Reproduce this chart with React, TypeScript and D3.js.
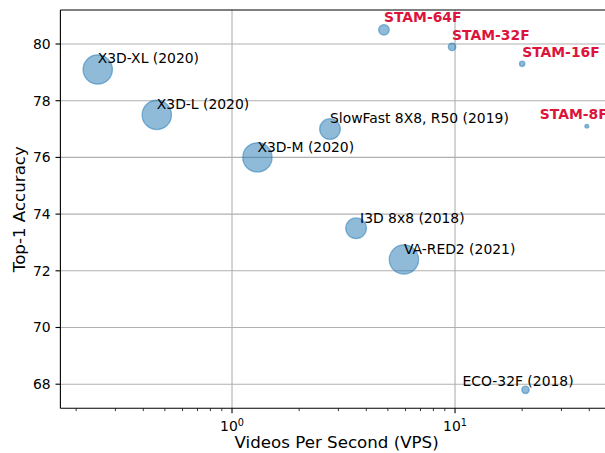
import React from 'react';
import * as d3 from 'd3';

// baseline models
const models = ['X3D-XL (2020)', 'X3D-L (2020)', 'X3D-M (2020)', 'SlowFast 8X8, R50 (2019)', 'I3D 8x8 (2018)', 'VA-RED2 (2021)', 'ECO-32F (2018)'];
const modelVps = [0.25, 0.46, 1.3, 2.75, 3.6, 5.9, 20.7];
const modelAcc = [79.1, 77.5, 76.0, 77.0, 73.5, 72.4, 67.8];
const modelSize = [350, 350, 350, 175, 175, 350, 22];

// ours
const stam = ['STAM-64F', 'STAM-32F', 'STAM-16F', 'STAM-8F'];
const stamVps = [4.8, 9.7, 20, 39];
const stamAcc = [80.5, 79.9, 79.3, 77.1];
const stamSize = [46, 23, 11.5, 5.75];

const yTicks = [68, 70, 72, 74, 76, 78, 80];
const xMajor = [1, 10];

// label nudges (px), models then stam
const labelDx = [0, 0, 0, 0, 4, 0, -63, 0, 0, 0, -47];
const labelDy = [-7, -6, -5.5, -6, -5, -5, -3.5, -7.5, -6.5, -7, -7];

const W = 605;
const H = 453;
const left = 60.4;
const top = 10;
const bottom = 408.3;
const font = 'DejaVu Sans, sans-serif';

const App = () => {
  const x = d3.scaleLog().domain([0.17, 50]).range([left, 610.9]);
  const y = d3.scaleLinear().domain([67.15, 81.2]).range([bottom, top]);
  const r = d3.scaleSqrt().domain([0, 350]).range([0, Math.sqrt(350 / Math.PI) * (100 / 72)]);

  const minor: number[] = [];
  [0.1, 1, 10].forEach((d) => {
    for (let k = 2; k <= 9; k++) {
      const v = d * k;
      if (v >= 0.17 && v <= 50) minor.push(v);
    }
  });

  const points = [
    ...models.map((name, i) => ({ name, vps: modelVps[i], acc: modelAcc[i], size: modelSize[i], ours: false })),
    ...stam.map((name, i) => ({ name, vps: stamVps[i], acc: stamAcc[i], size: stamSize[i], ours: true })),
  ];

  return (
    <svg width={W} height={H} style={{ position: 'absolute', left: 0, top: 0, background: '#fff' }} fontFamily={font}>
      <defs>
        <clipPath id='plot'>
          <rect x={left} y={top} width={W - left} height={bottom - top} />
        </clipPath>
      </defs>
      {/* grid */}
      {yTicks.map((t) => (
        <line key={'gy' + t} x1={left} x2={W} y1={y(t)} y2={y(t)} stroke='#b0b0b0' strokeWidth={1.1} />
      ))}
      {xMajor.map((t) => (
        <line key={'gx' + t} x1={x(t)} x2={x(t)} y1={top} y2={bottom} stroke='#b0b0b0' strokeWidth={1.1} />
      ))}
      {/* bubbles */}
      <g clipPath='url(#plot)'>
        {points.map((p) => (
          <circle
            key={p.name}
            cx={x(p.vps)}
            cy={y(p.acc)}
            r={r(p.size)}
            fill='#1f77b4'
            fillOpacity={0.5}
            stroke='#1f77b4'
            strokeOpacity={0.5}
            strokeWidth={1.3}
          />
        ))}
      </g>
      {points.map((p, i) => (
        <text
          key={'t' + p.name}
          x={x(p.vps) + labelDx[i]}
          y={y(p.acc) + labelDy[i]}
          fontSize={13.9}
          fontWeight={p.ours ? 'bold' : 'normal'}
          fill={p.ours ? '#dc143c' : '#000'}
        >
          {p.name}
        </text>
      ))}
      {/* spines */}
      <line x1={left} x2={left} y1={top} y2={bottom} stroke='#000' strokeWidth={1.1} />
      <line x1={left} x2={W} y1={bottom} y2={bottom} stroke='#000' strokeWidth={1.1} />
      <line x1={left} x2={W} y1={top} y2={top} stroke='#000' strokeWidth={1.1} />
      {/* y ticks */}
      {yTicks.map((t) => (
        <g key={'yt' + t}>
          <line x1={left - 4.9} x2={left} y1={y(t)} y2={y(t)} stroke='#000' strokeWidth={1.1} />
          <text x={left - 9.8} y={y(t)} dy='0.35em' textAnchor='end' fontSize={13.9}>
            {t}
          </text>
        </g>
      ))}
      {/* x ticks */}
      {minor.map((t) => (
        <line key={'mx' + t} x1={x(t)} x2={x(t)} y1={bottom} y2={bottom + 2.8} stroke='#000' strokeWidth={0.8} />
      ))}
      {xMajor.map((t) => (
        <g key={'xt' + t}>
          <line x1={x(t)} x2={x(t)} y1={bottom} y2={bottom + 4.9} stroke='#000' strokeWidth={1.1} />
          <text x={x(t)} y={bottom + 23} textAnchor='middle' fontSize={13.9}>
            10
            <tspan dy={-5} fontSize={9.7}>
              {Math.round(Math.log10(t))}
            </tspan>
          </text>
        </g>
      ))}
      {/* axis labels */}
      <text x={(left + 610.9) / 2 + 1} y={447.5} textAnchor='middle' fontSize={16.67}>
        Videos Per Second (VPS)
      </text>
      <text
        transform={`translate(25, ${(top + bottom) / 2}) rotate(-90)`}
        textAnchor='middle'
        fontSize={16.67}
      >
        Top-1 Accuracy
      </text>
    </svg>
  );
};

export default App;
